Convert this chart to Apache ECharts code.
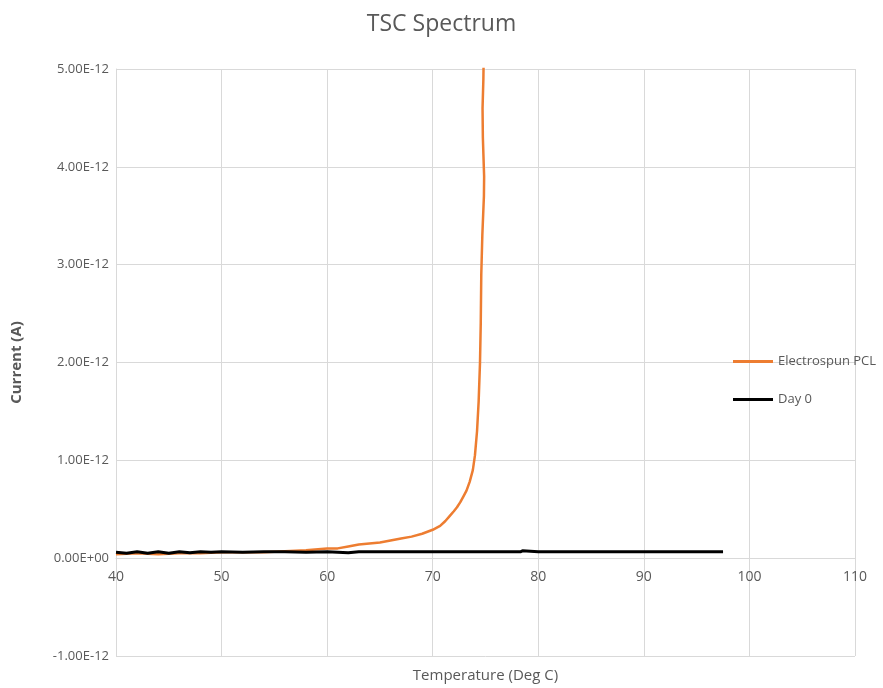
<!DOCTYPE html>
<html>
<head>
<meta charset="utf-8">
<script src="https://cdn.jsdelivr.net/npm/echarts@6/dist/echarts.min.js"></script>
<style>html,body{margin:0;padding:0;background:#fff;}#c{width:883px;height:688px;}</style>
</head>
<body>
<div id="c"></div>
<script>
// Values in units of 1E-12 A
var pclTemp = [40, 42, 44, 46, 48, 50, 52, 54, 56, 58, 60, 61, 62, 63, 64, 65, 66, 67, 68, 69, 70, 70.7, 71.2, 71.6, 72, 72.3, 72.6, 72.9, 73.2, 73.5, 73.8, 74.0, 74.2, 74.35, 74.48, 74.55, 74.6, 74.7, 74.85, 74.87, 74.75, 74.72, 74.8, 74.85];
var pclCurrent = [0.04, 0.05, 0.04, 0.05, 0.05, 0.06, 0.06, 0.06, 0.07, 0.08, 0.10, 0.10, 0.12, 0.14, 0.15, 0.16, 0.18, 0.20, 0.22, 0.25, 0.29, 0.33, 0.38, 0.43, 0.48, 0.52, 0.57, 0.63, 0.69, 0.78, 0.90, 1.05, 1.30, 1.60, 2.00, 2.40, 2.90, 3.30, 3.70, 3.90, 4.30, 4.60, 4.90, 5.30];
var day0Temp = [40, 41, 42, 43, 44, 45, 46, 47, 48, 49, 50, 52, 54, 56, 58, 60, 61, 62, 63, 70, 78.3, 78.5, 80, 87, 87.1, 90, 97.5];
var day0Current = [0.06, 0.05, 0.065, 0.05, 0.065, 0.05, 0.065, 0.055, 0.065, 0.06, 0.065, 0.06, 0.065, 0.065, 0.06, 0.065, 0.06, 0.055, 0.065, 0.065, 0.065, 0.075, 0.065, 0.065, 0.055, 0.065, 0.065];
var xTicks = {min: 40, max: 110, interval: 10};
var yTicks = {min: -1, max: 5, interval: 1};

function pair(a, b) { return a.map(function (v, i) { return [v, b[i]]; }); }
function fmtE(v) {
  var val = v * 1e-12;
  if (Math.abs(v) < 1e-9) return '0.00E+00';
  var s = val.toExponential(2).toUpperCase();
  var parts = s.split('E');
  var exp = parseInt(parts[1], 10);
  var sign = exp < 0 ? '-' : '+';
  var e = Math.abs(exp);
  return parts[0] + 'E' + sign + (e < 10 ? '0' + e : e);
}
var FONT = '"Open Sans", sans-serif';
var chart = echarts.init(document.getElementById('c'));
chart.setOption({
  animation: false,
  textStyle: {fontFamily: FONT},
  title: {
    text: 'TSC Spectrum', left: 'center', top: 8,
    textStyle: {fontSize: 23, fontWeight: 'normal', color: '#595959', fontFamily: FONT}
  },
  legend: {
    orient: 'vertical', left: 728, top: 350, itemWidth: 40, itemHeight: 3, itemGap: 25,
    icon: 'rect',
    textStyle: {fontSize: 13, color: '#595959', fontFamily: FONT},
    data: ['Electrospun PCL', 'Day 0']
  },
  grid: {left: 116, right: 28, top: 69, bottom: 32, containLabel: false, outerBoundsMode: 'none'},
  xAxis: {
    type: 'value', min: xTicks.min, max: xTicks.max, interval: xTicks.interval,
    position: 'bottom', offset: -98,
    name: 'Temperature (Deg C)', nameLocation: 'middle', nameGap: 110,
    nameTextStyle: {fontSize: 15, color: '#595959', fontFamily: FONT},
    axisLine: {show: true, onZero: false, lineStyle: {color: '#d9d9d9', width: 1}},
    axisTick: {show: false},
    axisLabel: {fontSize: 14, color: '#595959', margin: 12, fontFamily: FONT},
    splitLine: {show: true, lineStyle: {color: '#d9d9d9', width: 1}}
  },
  yAxis: {
    type: 'value', min: yTicks.min, max: yTicks.max, interval: yTicks.interval,
    name: 'Current (A)', nameLocation: 'middle', nameGap: 92, nameRotate: 90,
    nameTextStyle: {fontSize: 15, color: '#595959', fontWeight: 'bold', fontFamily: FONT},
    axisLine: {show: true, onZero: false, lineStyle: {color: '#d9d9d9', width: 1}}, axisTick: {show: false},
    axisLabel: {fontSize: 13, color: '#595959', margin: 7, formatter: fmtE, fontFamily: FONT},
    splitLine: {show: true, lineStyle: {color: '#d9d9d9', width: 1}}
  },
  series: [
    {
      name: 'Electrospun PCL', type: 'line', data: pair(pclTemp, pclCurrent),
      symbol: 'none', clip: true, z: 2,
      lineStyle: {color: '#ED7D31', width: 2.5}, itemStyle: {color: '#ED7D31'}
    },
    {
      name: 'Day 0', type: 'line', data: pair(day0Temp, day0Current),
      symbol: 'none', clip: true, z: 3,
      lineStyle: {color: '#000000', width: 3}, itemStyle: {color: '#000000'}
    }
  ]
});
</script>
</body>
</html>
